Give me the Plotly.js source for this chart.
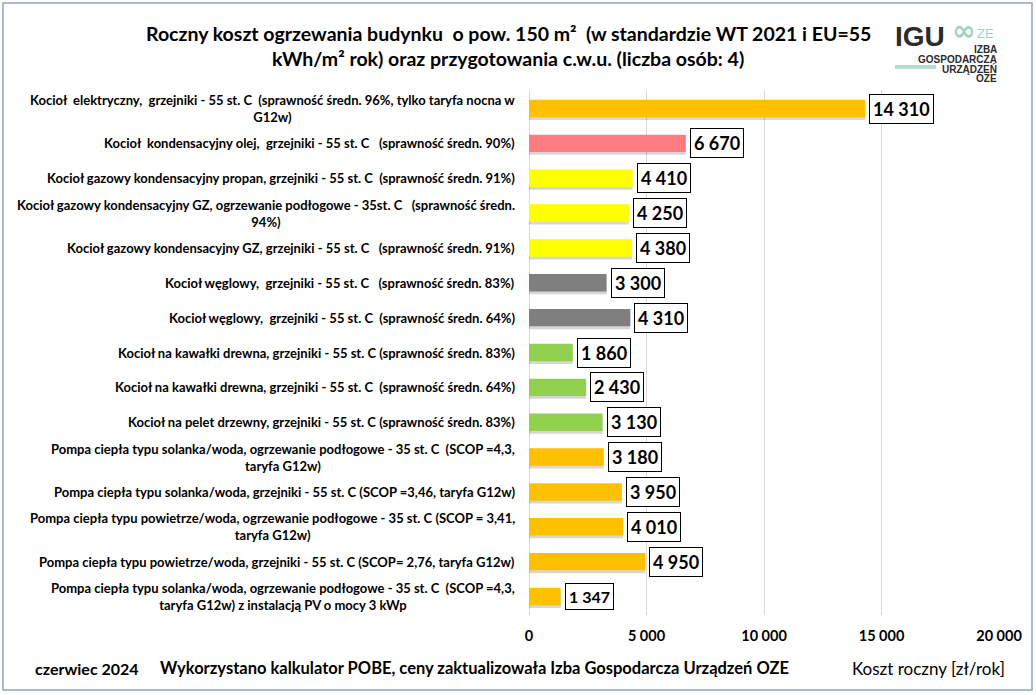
<!DOCTYPE html>
<html>
<head>
<meta charset="utf-8">
<script src="https://cdn.plot.ly/plotly-3.0.1.min.js"></script>
<style>
html,body{margin:0;padding:0;background:#fff;}
#chart{width:1036px;height:695px;}
</style>
</head>
<body>
<div id="chart"></div>
<script>
const categories = [
  "Kocioł  elektryczny,  grzejniki - 55 st. C  (sprawność średn. 96%, tylko taryfa nocna w<br>G12w)",
  "Kocioł  kondensacyjny olej,  grzejniki - 55 st. C   (sprawność średn. 90%)",
  "Kocioł gazowy kondensacyjny propan, grzejniki - 55 st. C  (sprawność średn. 91%)",
  "Kocioł gazowy kondensacyjny GZ, ogrzewanie podłogowe - 35st. C   (sprawność średn.<br>94%)",
  "Kocioł gazowy kondensacyjny GZ, grzejniki - 55 st. C   (sprawność średn. 91%)",
  "Kocioł węglowy,  grzejniki - 55 st. C   (sprawność średn. 83%)",
  "Kocioł węglowy,  grzejniki - 55 st. C  (sprawność średn. 64%)",
  "Kocioł na kawałki drewna, grzejniki - 55 st. C (sprawność średn. 83%)",
  "Kocioł na kawałki drewna, grzejniki - 55 st. C  (sprawność średn. 64%)",
  "Kocioł na pelet drzewny, grzejniki - 55 st. C (sprawność średn. 83%)",
  "Pompa ciepła typu solanka/woda, ogrzewanie podłogowe - 35 st. C  (SCOP =4,3,<br>taryfa G12w)",
  "Pompa ciepła typu solanka/woda, grzejniki - 55 st. C (SCOP =3,46, taryfa G12w)",
  "Pompa ciepła typu powietrze/woda, ogrzewanie podłogowe - 35 st. C (SCOP = 3,41,<br>taryfa G12w)",
  "Pompa ciepła typu powietrze/woda, grzejniki - 55 st. C (SCOP= 2,76, taryfa G12w)",
  "Pompa ciepła typu solanka/woda, ogrzewanie podłogowe - 35 st. C  (SCOP =4,3,<br>taryfa G12w) z instalacją PV o mocy 3 kWp"
];
const values = [14310, 6670, 4410, 4250, 4380, 3300, 4310, 1860, 2430, 3130, 3180, 3950, 4010, 4950, 1347];
const groups = ["el","olej","gaz","gaz","gaz","wegiel","wegiel","drewno","drewno","drewno","pc","pc","pc","pc","pc"];
const groupColors = {el:"#FFC000", olej:"#FF7C80", gaz:"#FFFF00", wegiel:"#7F7F7F", drewno:"#92D050", pc:"#FFC000"};
const xTickVals = [0, 5000, 10000, 15000, 20000];
const titleLines = ["Roczny koszt ogrzewania budynku  o pow. 150 m²  (w standardzie WT 2021 i EU=55", "kWh/m² rok) oraz przygotowania c.w.u. (liczba osób: 4)"];
const footerLeft = "czerwiec 2024";
const footerMid = "Wykorzystano kalkulator POBE, ceny zaktualizowała Izba Gospodarcza Urządzeń OZE";
const xAxisTitle = "Koszt roczny [zł/rok]";
const logoMain = "IGU";
const logoSymbol = "∞";
const logoSuffix = "ZE";
const logoLines = ["IZBA", "GOSPODARCZA", "URZĄDZEŃ", "OZE"];

const FONT = "Lato, Liberation Sans, sans-serif";
const LOGOFONT = "Liberation Sans, Arial, sans-serif";

function fmt(v){ return String(v).replace(/\B(?=(\d{3})+(?!\d))/g, " "); }

// plot area pixel geometry
const L = 529, R = 999, T = 90, B = 615, W = 1036, H = 695;
const pw = R - L, ph = B - T;
const px = x => (x - L) / pw;
const py = y => (B - y) / ph;

const shadow = {
  type: "bar", orientation: "h", y: categories, x: values,
  width: 0.5, offset: -0.17,
  marker: {color: "rgba(0,0,0,0.16)", line: {width: 0}},
  hoverinfo: "skip"
};
const trace = {
  type: "bar", orientation: "h", y: categories, x: values,
  width: 0.5, offset: -0.25,
  marker: {color: groups.map(g => groupColors[g]), line: {width: 0}},
  hoverinfo: "x+y"
};

const annotations = [];
categories.forEach((c, i) => {
  annotations.push({
    xref: "paper", yref: "y", x: 0, y: c, xanchor: "right", yanchor: "middle",
    xshift: -12, align: "center", showarrow: false, text: "<b>" + c + "</b>",
    font: {family: FONT, size: 13, color: "#000"}
  });
  annotations.push({
    xref: "x", yref: "y", x: values[i], y: c, xanchor: "left", yanchor: "middle",
    xshift: 4, showarrow: false, text: "<b>" + fmt(values[i]) + "</b>",
    bgcolor: "#fff", bordercolor: "#000", borderwidth: 1, borderpad: 3,
    font: {family: FONT, size: i === 14 ? 16 : 18, color: "#000"}
  });
});
// title
annotations.push({xref:"paper", yref:"paper", x: px(508), y: py(33), xanchor:"center", yanchor:"middle", showarrow:false,
  text: "<b>" + titleLines[0] + "</b>", font:{family: FONT, size: 19.5, color:"#000"}});
annotations.push({xref:"paper", yref:"paper", x: px(508), y: py(58), xanchor:"center", yanchor:"middle", showarrow:false,
  text: "<b>" + titleLines[1] + "</b>", font:{family: FONT, size: 19.5, color:"#000"}});
// footer
annotations.push({xref:"paper", yref:"paper", x: px(33), y: py(668), xanchor:"left", yanchor:"middle", showarrow:false,
  text: "<b>" + footerLeft + "</b>", font:{family: FONT, size: 16, color:"#000"}});
annotations.push({xref:"paper", yref:"paper", x: px(158), y: py(668), xanchor:"left", yanchor:"middle", showarrow:false,
  text: "<b>" + footerMid + "</b>", font:{family: FONT, size: 16.5, color:"#000"}});
annotations.push({xref:"paper", yref:"paper", x: px(1007), y: py(668), xanchor:"right", yanchor:"middle", showarrow:false,
  text: xAxisTitle, font:{family: FONT, size: 17, color:"#000"}});
// logo
annotations.push({xref:"paper", yref:"paper", x: px(893), y: py(36), xanchor:"left", yanchor:"middle", showarrow:false,
  text: "<b>" + logoMain + "</b>", font:{family: LOGOFONT, size: 28, color:"#2b2b2b"}});
annotations.push({xref:"paper", yref:"paper", x: px(963), y: py(31), xanchor:"center", yanchor:"middle", showarrow:false,
  text: "<b>" + logoSymbol + "</b>", font:{family: "DejaVu Sans, sans-serif", size: 28, color:"#9FD3BF"}});
annotations.push({xref:"paper", yref:"paper", x: px(975), y: py(33), xanchor:"left", yanchor:"middle", showarrow:false,
  text: logoSuffix, font:{family: LOGOFONT, size: 13, color:"#9FD3BF"}});
logoLines.forEach((t, k) => {
  annotations.push({xref:"paper", yref:"paper", x: px(999), y: py(49 + k*10), xanchor:"right", yanchor:"middle", showarrow:false,
    text: "<b>" + t + "</b>", font:{family: LOGOFONT, size: 10, color:"#2b2b2b"}});
});

const shapes = [
  {type:"rect", xref:"paper", yref:"paper", x0: px(3), x1: px(1032), y0: py(690), y1: py(3),
   line:{color:"#8FA7B8", width:1.5}, fillcolor:"rgba(0,0,0,0)", layer:"below"},
  {type:"line", xref:"paper", yref:"paper", x0: px(895), x1: px(936), y0: py(67), y1: py(67),
   line:{color:"#B7DDD0", width:4}}
];

const layout = {
  width: W, height: H,
  margin: {l: L, r: W - R, t: T, b: H - B, pad: 0},
  paper_bgcolor: "#fff", plot_bgcolor: "#fff",
  separators: ", ",
  showlegend: false,
  barmode: "overlay",
  xaxis: {
    range: [0, 20000], tickvals: xTickVals, tickformat: ",d",
    showgrid: true, gridcolor: "#D9D9D9", gridwidth: 1,
    zeroline: true, zerolinecolor: "#D9D9D9", zerolinewidth: 1,
    showline: false, ticks: "", ticklabelstandoff: 10,
    tickfont: {family: FONT, size: 14.5, color: "#000", weight: "bold"},
    fixedrange: true
  },
  yaxis: {
    autorange: "reversed", showticklabels: false, showgrid: false, zeroline: false,
    showline: false, ticks: "", fixedrange: true
  },
  annotations: annotations,
  shapes: shapes
};

Plotly.newPlot("chart", [shadow, trace], layout, {displayModeBar: false, staticPlot: true});
</script>
</body>
</html>
